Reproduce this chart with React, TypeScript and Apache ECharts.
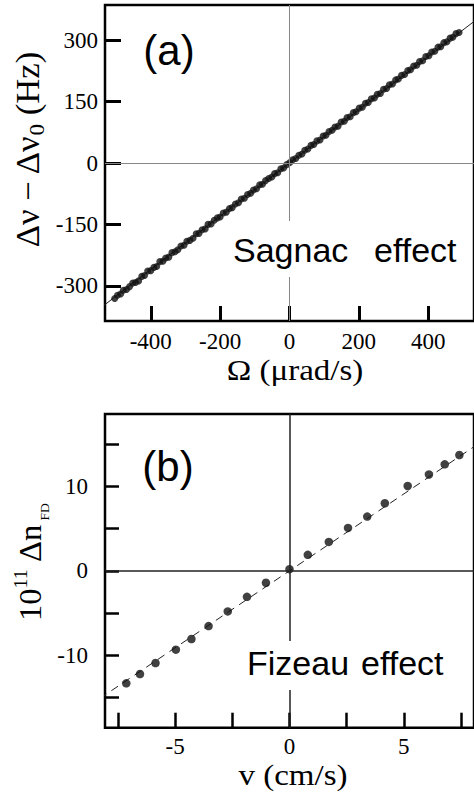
import React, { useEffect, useRef } from "react";
import * as echarts from "echarts";

// ---- Panel (a): Sagnac effect ----
const sagnacOmega = [
  -504, -496, -487, -479, -470, -461, -452, -444, -435, -426, -418, -409, -400, -391, -383, -374, -365, -357, -348, -339,
  -330, -322, -313, -304, -296, -287, -278, -269, -261, -252, -243, -235, -226, -217, -208, -200, -191, -182, -173, -165,
  -156, -147, -139, -130, -121, -112, -104, -95, -86, -78, -69, -60, -51, -43, -34, -25, -17, -8, 1, 9,
  18, 27, 36, 44, 53, 62, 70, 79, 88, 97, 105, 114, 123, 131, 140, 149, 158, 166, 175, 184,
  192, 201, 210, 219, 227, 236, 245, 253, 262, 271, 280, 288, 297, 306, 314, 323, 332, 341, 349, 358,
  367, 375, 384, 393, 402, 410, 419, 428, 436, 445, 454, 463, 471, 480, 489,
];
const sagnacShift = [
  -331, -323, -320, -311, -309, -302, -293, -292, -288, -277, -275, -264, -263, -255, -253, -241, -240, -232, -230, -219,
  -217, -212, -203, -201, -191, -189, -184, -173, -172, -163, -161, -150, -149, -140, -134, -132, -122, -120, -111, -109,
  -100, -97, -88, -86, -77, -74, -66, -63, -53, -52, -43, -38, -34, -26, -24, -14, -12, -4, 1, 8,
  11, 19, 22, 31, 34, 43, 45, 54, 56, 66, 68, 77, 80, 88, 90, 100, 102, 111, 113, 123,
  125, 134, 136, 146, 148, 157, 159, 168, 170, 180, 182, 191, 193, 203, 205, 214, 216, 226, 228, 237,
  239, 248, 250, 260, 262, 271, 273, 283, 284, 294, 296, 305, 307, 316, 319,
];
const sagnacFitX = [-540, 540];
const sagnacFitY = [-351, 351];
const sagnacXTicks = [-400, -200, 0, 200, 400];
const sagnacYTicks = [-300, -150, 0, 150, 300];

// ---- Panel (b): Fizeau effect ----
const fizeauV = [-7.14, -6.54, -5.86, -4.97, -4.29, -3.54, -2.7, -1.86, -1.03, 0, 0.8, 1.72, 2.56, 3.4, 4.17, 5.17, 6.1, 6.79, 7.43];
const fizeauDn = [-13.3, -12.2, -10.9, -9.32, -8.06, -6.53, -4.8, -3.07, -1.41, 0.2, 1.89, 3.42, 5.08, 6.42, 7.99, 10.04, 11.4, 12.6, 13.7];
const fizeauFitX = [-8.3, 8.3];
const fizeauFitY = [-15.1, 15.1];
const fizeauXTicks = [-7.5, -5, -2.5, 0, 2.5, 5, 7.5];
const fizeauXLabels = [-5, 0, 5];
const fizeauYTicks = [-15, -10, -5, 0, 5, 10, 15];
const fizeauYLabels = [-10, 0, 10];

const SERIF = '"Liberation Serif", "Times New Roman", serif';
const SANS = '"Liberation Sans", Arial, sans-serif';

const zip = (a: number[], b: number[]) => a.map((v, i) => [v, b[i]]);

export default function App() {
  const ref = useRef<HTMLDivElement>(null);

  useEffect(() => {
    if (!ref.current) return;
    const chart = echarts.init(ref.current, null, { renderer: "svg" });

    const tickLabel = {
      color: "#000",
      fontSize: 23,
      fontFamily: SERIF,
    };

    const option: any = {
      animation: false,
      grid: [
        { left: 105, top: 5, width: 376.6, height: 316, show: true, borderColor: "#000", borderWidth: 2.5, backgroundColor: "transparent" },
        { left: 105, top: 414, width: 376.6, height: 313.7, show: true, borderColor: "#000", borderWidth: 2.5, backgroundColor: "transparent" },
      ],
      xAxis: [
        {
          type: "value", gridIndex: 0, min: -532, max: 532,
          axisLine: { show: false, onZero: false },
          splitLine: { show: false },
          axisTick: { show: true, inside: true, length: 15, lineStyle: { color: "#000", width: 3 }, customValues: sagnacXTicks },
          axisLabel: { ...tickLabel, margin: 9, customValues: sagnacXTicks },
        },
        {
          type: "value", gridIndex: 1, min: -8.07, max: 8.07,
          axisLine: { show: false, onZero: false },
          splitLine: { show: false },
          axisTick: { show: true, inside: true, length: 15, lineStyle: { color: "#000", width: 2.5 }, customValues: fizeauXTicks },
          axisLabel: { ...tickLabel, margin: 7, customValues: fizeauXLabels },
        },
      ],
      yAxis: [
        {
          type: "value", gridIndex: 0, min: -386, max: 386,
          axisLine: { show: false, onZero: false },
          splitLine: { show: false },
          axisTick: { show: true, inside: true, length: 16, lineStyle: { color: "#000", width: 3 }, customValues: sagnacYTicks },
          axisLabel: { ...tickLabel, margin: 7, customValues: sagnacYTicks },
        },
        {
          type: "value", gridIndex: 1, min: -18.55, max: 18.55,
          axisLine: { show: false, onZero: false },
          splitLine: { show: false },
          axisTick: { show: true, inside: true, length: 14, lineStyle: { color: "#000", width: 2.5 }, customValues: fizeauYTicks },
          axisLabel: { ...tickLabel, margin: 17, customValues: fizeauYLabels },
        },
      ],
      series: [
        {
          type: "line", xAxisIndex: 0, yAxisIndex: 0, z: 1, silent: true,
          data: zip(sagnacFitX, sagnacFitY), symbol: "none", showSymbol: false,
          lineStyle: { color: "#222", width: 1 },
          markLine: {
            silent: true, symbol: "none", label: { show: false },
            lineStyle: { color: "#888", width: 1, type: "solid" },
            data: [{ xAxis: 0 }, { yAxis: 0 }],
          },
        },
        {
          type: "scatter", xAxisIndex: 0, yAxisIndex: 0, z: 3, silent: true,
          data: zip(sagnacOmega, sagnacShift), symbolSize: 7,
          itemStyle: { color: "#111" },
        },
        {
          type: "line", xAxisIndex: 1, yAxisIndex: 1, z: 1, silent: true,
          data: zip(fizeauFitX, fizeauFitY), symbol: "none", showSymbol: false,
          lineStyle: { color: "#222", width: 1, type: [8, 6] },
          markLine: {
            silent: true, symbol: "none", label: { show: false },
            lineStyle: { color: "#222", width: 1.5, type: "solid" },
            data: [{ xAxis: 0 }, { yAxis: 0 }],
          },
        },
        {
          type: "scatter", xAxisIndex: 1, yAxisIndex: 1, z: 3, silent: true,
          data: zip(fizeauV, fizeauDn), symbolSize: 8.5,
          itemStyle: { color: "#111" },
        },
      ],
      graphic: [
        // white boxes behind in-plot texts
        { type: "rect", z: 10, silent: true, shape: { x: 228, y: 221, width: 236, height: 56 }, style: { fill: "#fff" } },
        { type: "rect", z: 10, silent: true, shape: { x: 242, y: 641, width: 212, height: 49 }, style: { fill: "#fff" } },
        { type: "text", z: 11, x: 169, y: 50, style: { text: "(a)", font: `42px ${SANS}`, fill: "#000", align: "center", verticalAlign: "middle" } },
        { type: "text", z: 11, x: 168, y: 466, style: { text: "(b)", font: `42px ${SANS}`, fill: "#000", align: "center", verticalAlign: "middle" } },
        { type: "text", z: 11, x: 233, y: 250, style: { text: "Sagnac", font: `34px ${SANS}`, fill: "#000", align: "left", verticalAlign: "middle" } },
        { type: "text", z: 11, x: 374, y: 250, style: { text: "effect", font: `34px ${SANS}`, fill: "#000", align: "left", verticalAlign: "middle" } },
        { type: "text", z: 11, x: 247, y: 663, style: { text: "Fizeau", font: `34px ${SANS}`, fill: "#000", align: "left", verticalAlign: "middle" } },
        { type: "text", z: 11, x: 361, y: 663, style: { text: "effect", font: `34px ${SANS}`, fill: "#000", align: "left", verticalAlign: "middle" } },
        // axis titles
        { type: "text", z: 11, x: 295, y: 370, scaleX: 1.1, style: { text: "Ω (μrad/s)", font: `30px ${SERIF}`, fill: "#000", align: "center", verticalAlign: "middle" } },
        { type: "text", z: 11, x: 293, y: 775, scaleX: 1.1, style: { text: "v (cm/s)", font: `30px ${SERIF}`, fill: "#000", align: "center", verticalAlign: "middle" } },
        {
          type: "text", z: 11, x: 28, y: 150, rotation: Math.PI / 2, scaleX: 1.05,
          style: {
            text: "{m|Δν − Δν}{s|0}{m| (Hz)}",
            align: "center", verticalAlign: "middle", fill: "#000",
            rich: {
              m: { fontSize: 33, fontFamily: SERIF, lineHeight: 40, fill: "#000" },
              s: { fontSize: 22, fontFamily: SERIF, lineHeight: 22, verticalAlign: "bottom", fill: "#000" },
            },
          },
        },
        {
          type: "text", z: 11, x: 31, y: 562, rotation: Math.PI / 2, scaleX: 1.05,
          style: {
            text: "{m|10}{p|11}{m| Δn}{s| FD}",
            align: "center", verticalAlign: "middle", fill: "#000",
            rich: {
              m: { fontSize: 31, fontFamily: SERIF, lineHeight: 40, fill: "#000" },
              p: { fontSize: 19, fontFamily: SERIF, lineHeight: 14, verticalAlign: "top", fill: "#000" },
              s: { fontSize: 13, fontFamily: SERIF, lineHeight: 26, verticalAlign: "bottom", fill: "#000" },
            },
          },
        },
      ],
    };

    chart.setOption(option);
    return () => chart.dispose();
  }, []);

  return (
    <div
      ref={ref}
      style={{ position: "absolute", left: 0, top: 0, width: 474, height: 797, background: "#fff" }}
    />
  );
}
